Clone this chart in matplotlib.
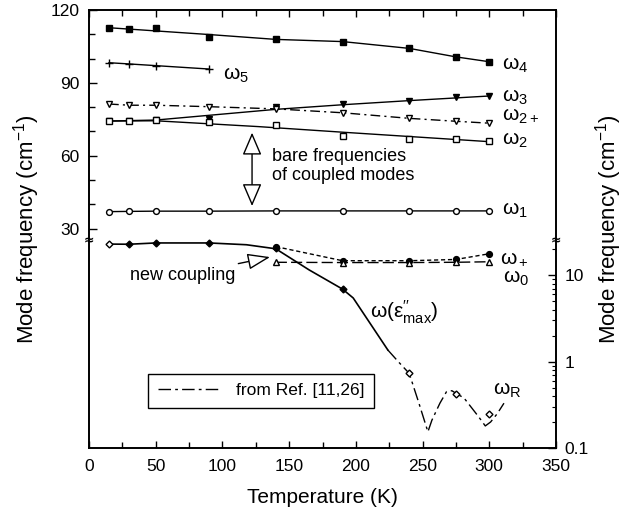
import numpy as np
import matplotlib
matplotlib.use("Agg")
import matplotlib.pyplot as plt
from matplotlib.ticker import FixedLocator, NullFormatter, FixedFormatter

FONT = ['Liberation Sans', 'DejaVu Sans']
plt.rcParams['font.family'] = FONT
plt.rcParams['mathtext.fontset'] = 'custom'
plt.rcParams['mathtext.rm'] = 'Liberation Sans'
plt.rcParams['mathtext.it'] = 'Liberation Sans'
plt.rcParams['mathtext.sf'] = 'Liberation Sans'

# ---------------- data ----------------
temps = [15, 30, 50, 90, 140, 190, 240, 275, 300]

w4 = [112.7, 112.2, 112.7, 108.8, 108.1, 107.0, 104.2, 100.5, 98.7]
w4_fit_t = [15, 90, 140, 190, 240, 275, 300]
w4_fit = [112.7, 109.9, 107.9, 107.0, 104.2, 100.7, 98.7]

w5_t = [15, 30, 50, 90]
w5 = [98.3, 97.8, 97.1, 95.7]

w3 = [74.3, 74.4, 74.7, 75.1, 80.2, 81.2, 82.7, 84.1, 84.6]
w3_fit_t = [15, 50, 140, 190, 240, 300]
w3_fit = [74.3, 74.7, 79.1, 81.0, 82.7, 84.6]

w2p = [81.3, 80.8, 80.8, 80.2, 79.3, 77.7, 75.4, 74.2, 73.4]

w2 = [74.3, 74.4, 74.6, 73.9, 72.7, 68.1, 66.9, 66.8, 66.1]
w2_fit_t = [15, 50, 127, 190, 300]
w2_fit = [74.3, 74.4, 72.0, 69.7, 65.8]

w1 = [37.0, 37.1, 37.2, 37.2, 37.3, 37.3, 37.3, 37.3, 37.3]

soft_t = [15, 30, 50, 90, 140, 190]
soft = [22.9, 22.8, 23.6, 23.6, 20.5, 6.9]
soft_curve_t = [15, 30, 50, 90, 118, 140, 165, 190, 198, 224]
soft_curve = [22.9, 22.8, 23.6, 23.6, 22.5, 20.2, 11.5, 6.9, 5.45, 1.36]

wplus_t = [140, 190, 240, 275, 300]
wplus = [21.4, 14.7, 14.7, 15.2, 17.7]

w0_t = [140, 190, 240, 275, 300]
w0 = [14.1, 14.0, 14.0, 14.1, 14.3]

wr_t = [240, 275, 300]
wr = [0.73, 0.42, 0.25]

ref_t = [224, 232, 240, 247, 254, 257, 263, 268, 272, 276, 281, 292, 297, 301, 306, 311]
ref = [1.36, 0.99, 0.73, 0.34, 0.154, 0.21, 0.33, 0.45, 0.46, 0.42, 0.38, 0.23, 0.18, 0.20, 0.25, 0.33]

# ---------------- broken linear / log axis ----------------
BREAK = 25.0
DECADE = 35.57  # linear units per decade in the log part


def fwd(v):
    v = np.asarray(v, dtype=float)
    safe = np.clip(v, 1e-12, None)
    return np.where(v >= BREAK, v - BREAK, DECADE * np.log10(safe / BREAK))


def inv(u):
    u = np.asarray(u, dtype=float)
    return np.where(u >= 0, u + BREAK, BREAK * 10.0 ** (np.minimum(u, 0) / DECADE))


fig = plt.figure(figsize=(6.28, 5.14), dpi=100)
ax = fig.add_axes([89 / 628, 1 - 448 / 514, 467 / 628, 438 / 514])
ax.set_yscale('function', functions=(fwd, inv))
ax.set_xlim(0, 350)
ax.set_ylim(0.1, 120)

lw = 1.0
ms = 4.2
k = 'black'

# high-frequency modes
ax.plot(w4_fit_t, w4_fit, '-', color=k, lw=lw)
ax.plot(temps, w4, 's', color=k, ms=ms)

ax.plot(w5_t, w5, '-', color=k, lw=lw, marker='+', ms=6, mew=1.0)

ax.plot(w3_fit_t, w3_fit, '-', color=k, lw=lw)
ax.plot(temps, w3, 'v', color=k, ms=ms)

ax.plot(temps, w2p, color=k, lw=lw, dashes=(7, 3, 1.5, 3), marker='v', mfc='white', ms=ms)

ax.plot(w2_fit_t, w2_fit, '-', color=k, lw=lw)
ax.plot(temps, w2, 's', mfc='white', mec=k, ms=ms)

ax.plot(temps, w1, '-', color=k, lw=lw, marker='o', mfc='white', ms=ms)

# soft mode and coupled low-frequency modes
ax.plot(soft_curve_t, soft_curve, '-', color=k, lw=1.2)
ax.plot(soft_t[:1], soft[:1], 'D', mfc='white', mec=k, ms=3.5)
ax.plot(soft_t[1:], soft[1:], 'D', color=k, ms=3.5)

ax.plot(wplus_t, wplus, color=k, lw=lw, dashes=(3, 2), marker='o', ms=ms)
ax.plot(w0_t, w0, color=k, lw=lw, dashes=(8, 3), marker='^', mfc='white', ms=ms)

ref_line, = ax.plot(ref_t, ref, color=k, lw=1.0, dashes=(9, 3, 2, 3))
ax.plot(wr_t, wr, 'D', mfc='white', mec=k, ms=3.5)

# ---------------- axes styling ----------------
for s in ax.spines.values():
    s.set_linewidth(1.2)

ax.xaxis.set_major_locator(FixedLocator([0, 50, 100, 150, 200, 250, 300, 350]))
ax.xaxis.set_minor_locator(FixedLocator([25, 75, 125, 175, 225, 275, 325]))
ax.yaxis.set_major_locator(FixedLocator([30, 60, 90, 120]))
ax.yaxis.set_minor_locator(FixedLocator([40, 50, 70, 80, 100, 110]))
ax.tick_params(axis='both', which='both', direction='in', top=True, right=False, labelsize=12.5)
ax.tick_params(axis='x', which='major', length=5, width=1.0, pad=8)
ax.tick_params(axis='x', which='minor', length=4, width=1.0)
ax.tick_params(axis='y', which='major', length=6, width=1.0, pad=7)
ax.tick_params(axis='y', which='minor', length=4, width=1.0)

ax2 = ax.twinx()
ax2.set_yscale('function', functions=(fwd, inv))
ax2.set_ylim(0.1, 120)
ax2.yaxis.set_major_locator(FixedLocator([0.1, 1, 10]))
ax2.yaxis.set_major_formatter(FixedFormatter(['0.1', '1', '10']))
minors = [m * d for d in (0.1, 1.0) for m in range(2, 10)] + [20]
ax2.yaxis.set_minor_locator(FixedLocator(minors))
ax2.yaxis.set_minor_formatter(NullFormatter())
ax2.tick_params(axis='y', which='both', direction='in', labelsize=12.5)
ax2.tick_params(axis='y', which='major', length=6, width=1.0, pad=6)
ax2.tick_params(axis='y', which='minor', length=3, width=0.8)
for s in ax2.spines.values():
    s.set_linewidth(1.2)

ax.set_xlabel('Temperature (K)', fontsize=15, labelpad=10)
ax.set_ylabel('Mode frequency (cm$^{-1}$)', fontsize=16, labelpad=6)
ax2.set_ylabel('Mode frequency (cm$^{-1}$)', fontsize=16, labelpad=3)

# break marks on both spines
for xa in (0, 1):
    ax.text(xa, BREAK, '\u2248', transform=ax.get_yaxis_transform(), ha='center', va='center',
            fontsize=9, fontweight='bold', family='DejaVu Sans', clip_on=False)

# ---------------- labels ----------------
lab = dict(fontsize=15, color=k, va='center', ha='left')
ax.text(309.5, 97.4, r'$\mathrm{\omega_4}$', **lab)
ax.text(309.5, 84.2, r'$\mathrm{\omega_3}$', **lab)
ax.text(309.5, 76.4, r'$\mathrm{\omega_{2+}}$', **lab)
ax.text(309.5, 66.5, r'$\mathrm{\omega_2}$', **lab)
ax.text(309.5, 37.7, r'$\mathrm{\omega_1}$', **lab)
ax.text(308.0, 15.8, r'$\mathrm{\omega_+}$', **lab)
ax.text(310.0, 9.3, r'$\mathrm{\omega_0}$', **lab)
ax.text(100.4, 93.2, r'$\mathrm{\omega_5}$', **lab)
ax.text(210.6, 3.7, r"$\mathrm{\omega(\epsilon^{\prime\prime}_{max})}$", **lab)
ax.text(302.8, 0.47, r'$\mathrm{\omega_R}$', **lab)

ax.text(137.0, 55.6, 'bare frequencies\nof coupled modes', fontsize=13, ha='left', va='center',
        linespacing=1.15)
ax.annotate('', xy=(122.2, 69.5), xytext=(122.2, 39.3),
            arrowprops=dict(arrowstyle='<|-|>,head_length=0.7,head_width=0.3', fc='white',
                            ec=k, lw=1.0, mutation_scale=20, shrinkA=0, shrinkB=0))

ax.annotate('new coupling', xy=(135.7, 16.2), xytext=(109.4, 10.0), fontsize=13,
            ha='right', va='center',
            arrowprops=dict(arrowstyle='-|>,head_length=0.7,head_width=0.25', fc='white',
                            ec=k, lw=1.0, mutation_scale=20, shrinkA=1, shrinkB=0))

leg = ax.legend([ref_line], ['from Ref. [11,26]'], loc='lower left',
                bbox_to_anchor=(0.1263, 0.0913), fontsize=12.5, frameon=True, fancybox=False,
                edgecolor=k, framealpha=1, handlelength=3.6, handletextpad=0.9,
                borderpad=0.55, borderaxespad=0)
leg.get_frame().set_linewidth(1.0)

fig.savefig('out.png', dpi=100, facecolor='white')
